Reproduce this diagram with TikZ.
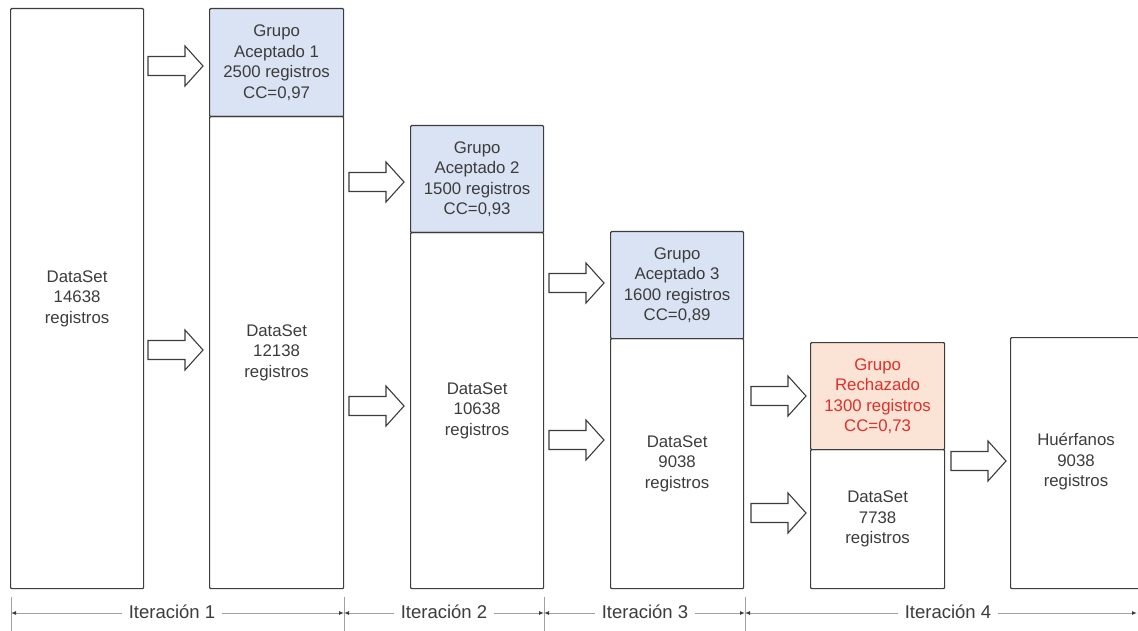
\documentclass[tikz,border=0pt]{standalone}
\usepackage{fontspec}
\setmainfont{Liberation Sans}
\usetikzlibrary{arrows.meta}
\definecolor{ink}{HTML}{3C3C3C}
\definecolor{acc}{HTML}{DAE3F3}
\definecolor{rej}{HTML}{FBE3D6}
\definecolor{redtxt}{HTML}{E0302A}
\definecolor{dimc}{HTML}{A0A0A0}
\newcommand\blockarr[2]{\draw[barrow,shift={(#1,#2)}] (0,-9.5) -- (37,-9.5) -- (37,-20) -- (55,0) -- (37,20) -- (37,9.5) -- (0,9.5) -- cycle;}
\begin{document}
\begin{tikzpicture}[x=1pt,y=-1pt,
  box/.style={draw=ink, line width=1.2pt, rounded corners=1pt, inner sep=0pt, anchor=north west,
    text=ink, align=center, font=\fontsize{16.8}{20.5}\selectfont},
  accbox/.style={box, fill=acc},
  rejbox/.style={box, fill=rej, text=redtxt},
  barrow/.style={draw=ink, line width=1.1pt, fill=white},
  dimline/.style={draw=dimc, line width=1pt, {Latex[length=5pt,width=4pt,color=ink]}-{Latex[length=5pt,width=4pt,color=ink]}},
  tick/.style={draw=dimc, line width=1pt},
  lab/.style={fill=white, text=ink, inner xsep=7pt, inner ysep=1pt, font=\fontsize{18.5}{20}\selectfont}
]
\useasboundingbox (0,0) rectangle (1138,631);
% boxes
\node[box, minimum width=133pt, minimum height=580pt] (d0) at (10,8) {DataSet\\14638\\registros};
\node[accbox, minimum width=134pt, minimum height=108pt] (g1) at (209,8) {Grupo\\Aceptado 1\\2500 registros\\CC=0,97};
\node[box, minimum width=134pt, minimum height=472pt] (d1) at (209,116) {DataSet\\12138\\registros};
\node[accbox, minimum width=133pt, minimum height=107pt] (g2) at (410,125) {Grupo\\Aceptado 2\\1500 registros\\CC=0,93};
\node[box, minimum width=133pt, minimum height=356pt] (d2) at (410,232) {DataSet\\10638\\registros};
\node[accbox, minimum width=133pt, minimum height=107pt] (g3) at (610,231) {Grupo\\Aceptado 3\\1600 registros\\CC=0,89};
\node[box, minimum width=133pt, minimum height=250pt] (d3) at (610,338) {DataSet\\9038\\registros};
\node[rejbox, minimum width=134pt, minimum height=107pt] (g4) at (810,342) {Grupo\\Rechazado\\1300 registros\\CC=0,73};
\node[box, minimum width=134pt, minimum height=139pt] (d4) at (810,449) {DataSet\\7738\\registros};
\node[box, minimum width=150pt, minimum height=251pt] (hu) at (1010,337) {};
\node[text=ink, align=center, font=\fontsize{16.8}{20.5}\selectfont] (hut) at (1076,462) {Huérfanos\\9038\\registros};
% block arrows
\blockarr{148}{66}
\blockarr{148}{350}
\blockarr{349}{182}
\blockarr{349}{406}
\blockarr{549}{283}
\blockarr{549}{440}
\blockarr{751}{396}
\blockarr{751}{513}
\blockarr{951}{461}
% dimension line
\coordinate (t0) at (11,613);
\coordinate (t1) at (344,613);
\coordinate (t2) at (544,613);
\coordinate (t3) at (745,613);
\coordinate (t4) at (1137,613);
\foreach \x in {11,344,544,745} \draw[tick] (\x,597) -- (\x,631);
\draw[dimline] (t0) -- (t1);
\draw[dimline] (t1) -- (t2);
\draw[dimline] (t2) -- (t3);
\draw[dimline] (t3) -- (t4);
\node[lab] (i1) at (172,612) {Iteración 1};
\node[lab] (i2) at (444,612) {Iteración 2};
\node[lab] (i3) at (645,612) {Iteración 3};
\node[lab] (i4) at (948,612) {Iteración 4};
\end{tikzpicture}
\end{document}
